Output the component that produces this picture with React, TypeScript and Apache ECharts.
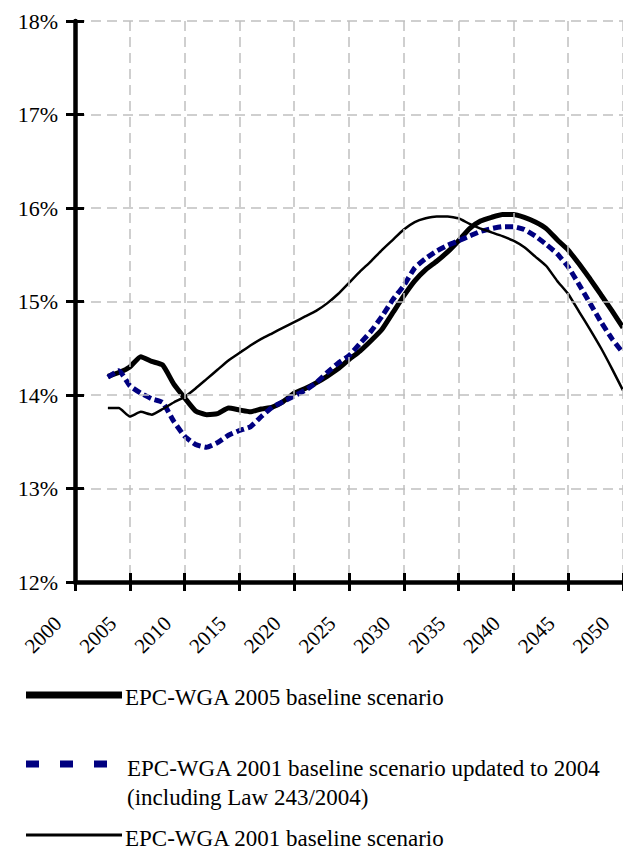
import React, { useEffect, useRef } from "react";
import * as echarts from "echarts";

const years = [
  2003, 2004, 2005, 2006, 2007, 2008, 2009, 2010, 2011, 2012,
  2013, 2014, 2015, 2016, 2017, 2018, 2019, 2020, 2021, 2022,
  2023, 2024, 2025, 2026, 2027, 2028, 2029, 2030, 2031, 2032,
  2033, 2034, 2035, 2036, 2037, 2038, 2039, 2040, 2041, 2042,
  2043, 2044, 2045, 2046, 2047, 2048, 2049, 2050,
];

// EPC-WGA 2005 baseline scenario (thick black)
const epc2005 = [
  14.2, 14.24, 14.3, 14.41, 14.36, 14.32, 14.12, 13.97, 13.83, 13.79,
  13.8, 13.86, 13.84, 13.82, 13.85, 13.87, 13.93, 14.02, 14.07, 14.13,
  14.2, 14.28, 14.38, 14.47, 14.58, 14.7, 14.88, 15.06, 15.22, 15.34,
  15.43, 15.53, 15.65, 15.78, 15.86, 15.9, 15.93, 15.93, 15.9, 15.85,
  15.78, 15.66, 15.55, 15.4, 15.24, 15.07, 14.9, 14.72,
];

// EPC-WGA 2001 baseline scenario updated to 2004 (blue dashed)
const epc2001Updated = [
  14.19, 14.26, 14.1, 14.02, 13.96, 13.92, 13.72, 13.56, 13.47, 13.44,
  13.49, 13.57, 13.62, 13.66, 13.77, 13.87, 13.93, 13.99, 14.05, 14.13,
  14.24, 14.34, 14.42, 14.55, 14.68, 14.84, 15.02, 15.17, 15.36, 15.46,
  15.54, 15.6, 15.65, 15.7, 15.75, 15.78, 15.8, 15.8, 15.77, 15.7,
  15.61, 15.51, 15.37, 15.18, 14.98, 14.78, 14.6, 14.45,
];

// EPC-WGA 2001 baseline scenario (thin black)
const epc2001 = [
  13.86, 13.86, 13.77, 13.82, 13.79, 13.85, 13.92, 13.98, 14.07, 14.17,
  14.27, 14.37, 14.45, 14.53, 14.6, 14.66, 14.72, 14.78, 14.84, 14.9,
  14.98, 15.08, 15.2, 15.32, 15.43, 15.55, 15.66, 15.77, 15.85, 15.89,
  15.91, 15.91, 15.89, 15.83, 15.78, 15.74, 15.7, 15.65, 15.58, 15.48,
  15.38, 15.22, 15.08, 14.89, 14.7, 14.5, 14.28, 14.05,
];

const xMin = 2000;
const xMax = 2050;
const xStep = 5;
const yMin = 12;
const yMax = 18;
const yStep = 1;

const legendNames = [
  "EPC-WGA 2005 baseline scenario",
  "EPC-WGA 2001 baseline scenario updated to 2004",
  "(including Law 243/2004)",
  "EPC-WGA 2001 baseline scenario",
];

const FONT = "Liberation Serif";

export default function App() {
  const ref = useRef<HTMLDivElement>(null);

  useEffect(() => {
    if (!ref.current) return;
    const chart = echarts.init(ref.current, undefined, { renderer: "svg" });
    const toPairs = (vals: number[]) => years.map((y, i) => [y, vals[i]]);

    const tickStyle = { color: "#000", width: 3 };
    const gridLine = { color: "#c0c0c0", width: 1.5, type: [10, 6] as any };
    const legendText = (text: string, x: number, y: number) => ({
      type: "text",
      x,
      y,
      style: {
        text,
        fontFamily: FONT,
        fontSize: 23,
        fill: "#000",
        verticalAlign: "middle",
      },
    });

    chart.setOption({
      animation: false,
      backgroundColor: "#fff",
      textStyle: { fontFamily: FONT },
      grid: { left: 75, top: 21, right: -2, bottom: 271, containLabel: false },
      xAxis: [
        {
          type: "value",
          min: xMin,
          max: xMax,
          interval: xStep,
          axisLine: { show: true, lineStyle: { color: "#000", width: 4.5 } },
          axisTick: { show: true, length: 9, lineStyle: tickStyle },
          axisLabel: {
            rotate: 45,
            margin: 21,
            padding: [0, 24, 0, 0],
            fontFamily: FONT,
            fontSize: 21,
            color: "#000",
            formatter: (v: number) => String(v),
          },
          splitLine: { show: true, lineStyle: gridLine },
          z: 5,
        },
        {
          type: "value",
          min: xMin,
          max: xMax,
          interval: xStep,
          position: "bottom",
          offset: 0,
          axisLine: { show: false },
          axisTick: { show: true, inside: true, length: 9, lineStyle: tickStyle },
          axisLabel: { show: false },
          splitLine: { show: false },
          z: 5,
        },
      ],
      yAxis: [
        {
          type: "value",
          min: yMin,
          max: yMax,
          interval: yStep,
          axisLine: { show: true, lineStyle: { color: "#000", width: 4.5 } },
          axisTick: { show: true, length: 9, lineStyle: tickStyle },
          axisLabel: {
            margin: 17,
            fontFamily: FONT,
            fontSize: 22,
            color: "#000",
            formatter: "{value}%",
          },
          splitLine: { show: true, lineStyle: gridLine },
          z: 5,
        },
        {
          type: "value",
          min: yMin,
          max: yMax,
          interval: yStep,
          position: "left",
          offset: 0,
          axisLine: { show: false },
          axisTick: { show: true, inside: true, length: 9, lineStyle: tickStyle },
          axisLabel: { show: false },
          splitLine: { show: false },
          z: 5,
        },
      ],
      series: [
        {
          name: legendNames[0],
          type: "line",
          data: toPairs(epc2005),
          showSymbol: false,
          smooth: 0.15,
          lineStyle: { color: "#000", width: 5 },
          z: 2,
        },
        {
          name: legendNames[1],
          type: "line",
          data: toPairs(epc2001Updated),
          showSymbol: false,
          smooth: 0.15,
          lineStyle: { color: "#000080", width: 5, type: [8, 4] },
          z: 3,
        },
        {
          name: legendNames[3],
          type: "line",
          data: toPairs(epc2001),
          showSymbol: false,
          smooth: 0.15,
          lineStyle: { color: "#000", width: 2.5 },
          z: 4,
        },
      ],
      graphic: [
        {
          type: "line",
          shape: { x1: 26, y1: 695, x2: 122, y2: 695 },
          style: { stroke: "#000", lineWidth: 7 },
        },
        legendText(legendNames[0], 125, 697),
        {
          type: "line",
          shape: { x1: 26, y1: 764, x2: 107, y2: 764 },
          style: { stroke: "#000080", lineWidth: 7, lineDash: [13, 21] },
        },
        legendText(legendNames[1], 127, 768),
        legendText(legendNames[2], 127, 797),
        {
          type: "line",
          shape: { x1: 26, y1: 835, x2: 122, y2: 835 },
          style: { stroke: "#000", lineWidth: 3 },
        },
        legendText(legendNames[3], 125, 838),
      ],
    });

    return () => chart.dispose();
  }, []);

  return (
    <div
      ref={ref}
      style={{ position: "absolute", left: 0, top: 0, width: 623, height: 853, overflow: "hidden" }}
    />
  );
}
